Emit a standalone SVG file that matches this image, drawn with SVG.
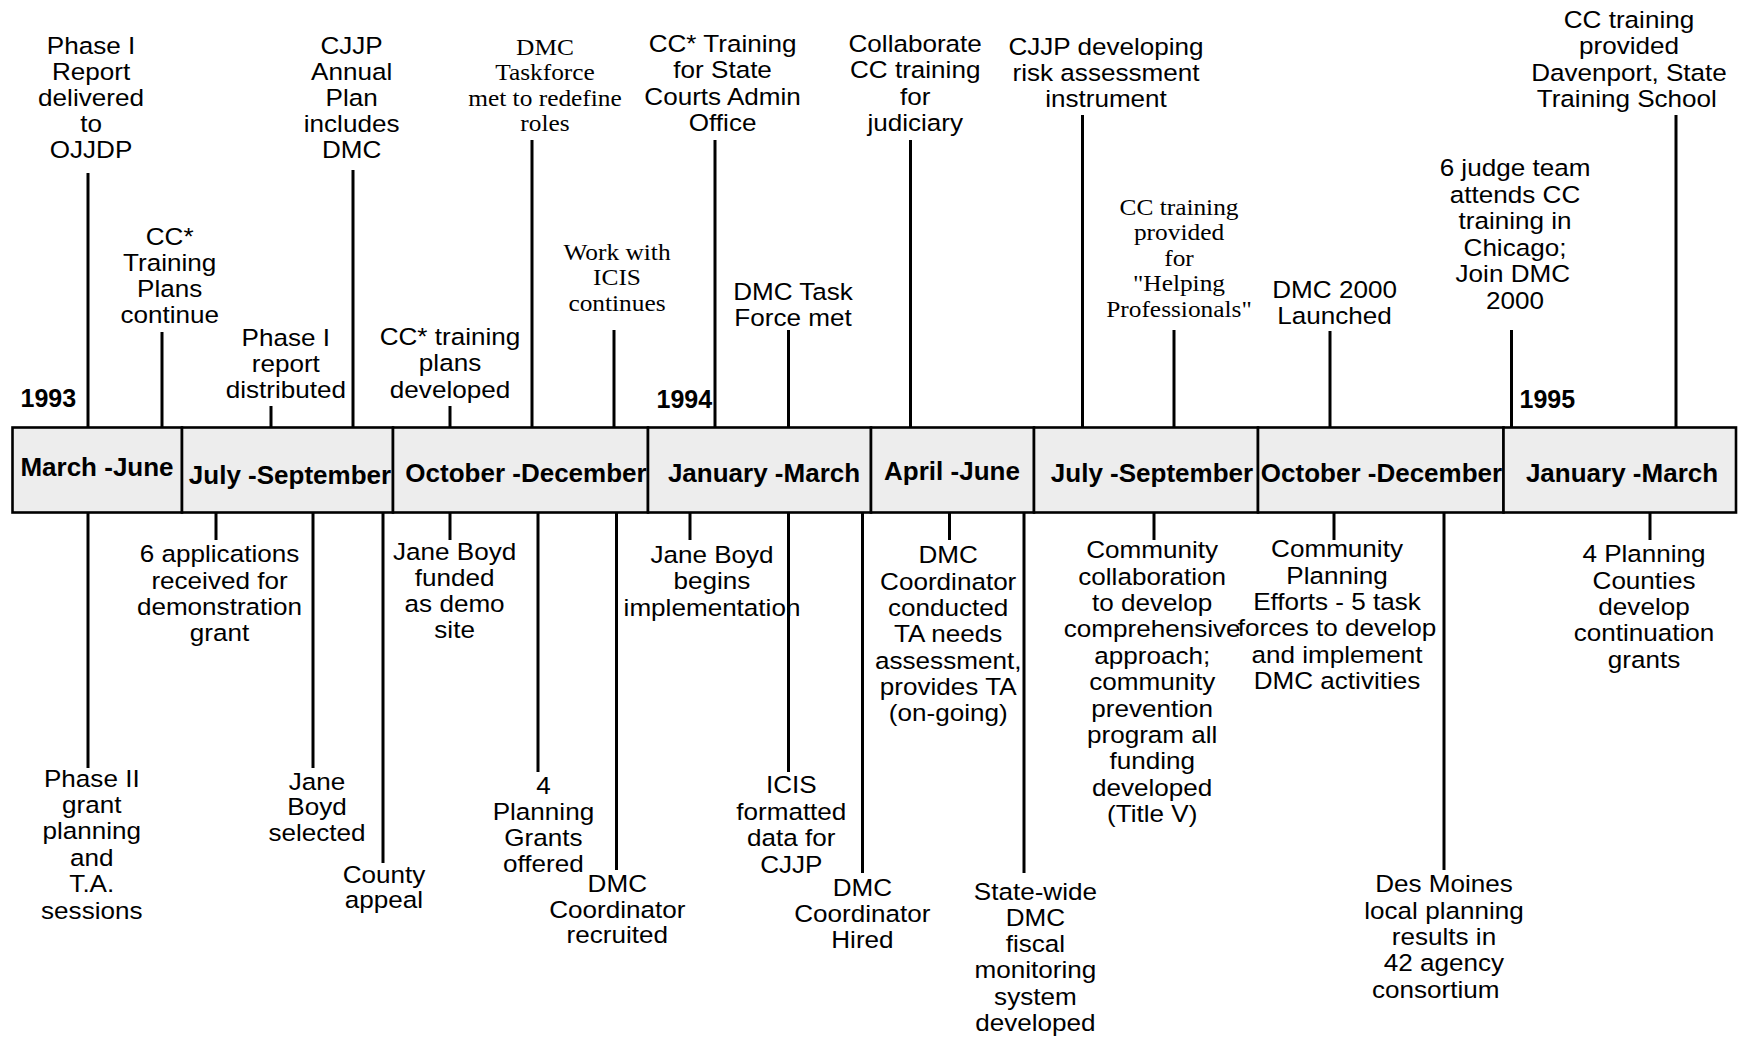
<svg xmlns="http://www.w3.org/2000/svg" width="1744" height="1038" viewBox="0 0 1744 1038">
<style>
.t{font-family:"Liberation Sans",Arial,sans-serif;font-size:23.5px;text-anchor:middle;fill:#000}
.s{font-family:"Liberation Serif","Times New Roman",serif;font-size:23.5px;text-anchor:middle;fill:#000}
.b{font-family:"Liberation Sans",Arial,sans-serif;font-weight:bold;font-size:26px;text-anchor:middle;fill:#000}
.y{font-family:"Liberation Sans",Arial,sans-serif;font-weight:bold;font-size:25px;fill:#000}
.seg{fill:#ededed;stroke:#000;stroke-width:2.6}
.ln{stroke:#000;stroke-width:3;fill:none}
</style>
<rect width="1744" height="1038" fill="#fff"/>
<g id="timeline-bar">
<g id="q1"><rect class="seg" x="12.5" y="427.5" width="169.5" height="85"/><text class="b" x="97" y="476">March -June</text></g>
<g id="q2"><rect class="seg" x="182" y="427.5" width="211" height="85"/><text class="b" x="290" y="483.5">July -September</text></g>
<g id="q3"><rect class="seg" x="393" y="427.5" width="255" height="85"/><text class="b" x="526" y="481.5">October -December</text></g>
<g id="q4"><rect class="seg" x="648" y="427.5" width="223" height="85"/><text class="b" x="764" y="481.5">January -March</text></g>
<g id="q5"><rect class="seg" x="871" y="427.5" width="163" height="85"/><text class="b" x="952" y="480">April -June</text></g>
<g id="q6"><rect class="seg" x="1034" y="427.5" width="224" height="85"/><text class="b" x="1152" y="481.5">July -September</text></g>
<g id="q7"><rect class="seg" x="1258" y="427.5" width="245.5" height="85"/><text class="b" x="1381.5" y="481.5">October -December</text></g>
<g id="q8"><rect class="seg" x="1503.5" y="427.5" width="232.5" height="85"/><text class="b" x="1622" y="481.5">January -March</text></g>
</g>
<g id="years">
<text class="y" x="20.5" y="407">1993</text>
<text class="y" x="656.5" y="408">1994</text>
<text class="y" x="1519.5" y="407.5">1995</text>
</g>
<g id="connectors">
<line class="ln" x1="88" y1="173" x2="88" y2="427"/>
<line class="ln" x1="162" y1="332" x2="162" y2="427"/>
<line class="ln" x1="271" y1="406" x2="271" y2="427"/>
<line class="ln" x1="353" y1="170" x2="353" y2="427"/>
<line class="ln" x1="450" y1="406" x2="450" y2="427"/>
<line class="ln" x1="532" y1="140" x2="532" y2="427"/>
<line class="ln" x1="614" y1="330" x2="614" y2="427"/>
<line class="ln" x1="715" y1="140" x2="715" y2="427"/>
<line class="ln" x1="788.5" y1="330" x2="788.5" y2="427"/>
<line class="ln" x1="910.5" y1="140" x2="910.5" y2="427"/>
<line class="ln" x1="1082.5" y1="115" x2="1082.5" y2="427"/>
<line class="ln" x1="1174" y1="330" x2="1174" y2="427"/>
<line class="ln" x1="1330" y1="331" x2="1330" y2="427"/>
<line class="ln" x1="1511.5" y1="330" x2="1511.5" y2="427"/>
<line class="ln" x1="1676" y1="115" x2="1676" y2="427"/>
<line class="ln" x1="88" y1="513" x2="88" y2="768"/>
<line class="ln" x1="216" y1="513" x2="216" y2="540"/>
<line class="ln" x1="313" y1="513" x2="313" y2="768"/>
<line class="ln" x1="383" y1="513" x2="383" y2="863"/>
<line class="ln" x1="450" y1="513" x2="450" y2="540"/>
<line class="ln" x1="538" y1="513" x2="538" y2="772"/>
<line class="ln" x1="616.5" y1="513" x2="616.5" y2="870"/>
<line class="ln" x1="690" y1="513" x2="690" y2="540"/>
<line class="ln" x1="788.5" y1="513" x2="788.5" y2="772"/>
<line class="ln" x1="862.5" y1="513" x2="862.5" y2="873"/>
<line class="ln" x1="949.5" y1="513" x2="949.5" y2="540"/>
<line class="ln" x1="1024" y1="513" x2="1024" y2="873"/>
<line class="ln" x1="1154" y1="513" x2="1154" y2="540"/>
<line class="ln" x1="1334" y1="513" x2="1334" y2="540"/>
<line class="ln" x1="1444" y1="513" x2="1444" y2="870"/>
<line class="ln" x1="1650" y1="513" x2="1650" y2="540"/>
</g>
<g id="t1"><text class="t" transform="translate(91 0) scale(1.11 1)"><tspan x="0" y="54">Phase I</tspan><tspan x="0" y="80">Report</tspan><tspan x="0" y="106">delivered</tspan><tspan x="0" y="132">to</tspan><tspan x="0" y="158">OJJDP</tspan></text></g>
<g id="t2"><text class="t" transform="translate(169.7 0) scale(1.11 1)"><tspan x="0" y="245">CC*</tspan><tspan x="0" y="271">Training</tspan><tspan x="0" y="297">Plans</tspan><tspan x="0" y="323">continue</tspan></text></g>
<g id="t3"><text class="t" transform="translate(285.8 0) scale(1.11 1)"><tspan x="0" y="346">Phase I</tspan><tspan x="0" y="372">report</tspan><tspan x="0" y="398">distributed</tspan></text></g>
<g id="t4"><text class="t" transform="translate(351.6 0) scale(1.11 1)"><tspan x="0" y="54">CJJP</tspan><tspan x="0" y="80">Annual</tspan><tspan x="0" y="106">Plan</tspan><tspan x="0" y="132">includes</tspan><tspan x="0" y="158">DMC</tspan></text></g>
<g id="t5"><text class="t" transform="translate(450 0) scale(1.11 1)"><tspan x="0" y="345">CC* training</tspan><tspan x="0" y="371.5">plans</tspan><tspan x="0" y="398">developed</tspan></text></g>
<g id="t6"><text class="s" transform="translate(545 0) scale(1.08 1)"><tspan x="0" y="55">DMC</tspan><tspan x="0" y="80.5">Taskforce</tspan><tspan x="0" y="106">met to redefine</tspan><tspan x="0" y="131.5">roles</tspan></text></g>
<g id="t7"><text class="s" transform="translate(617 0) scale(1.08 1)"><tspan x="0" y="260">Work with</tspan><tspan x="0" y="285.5">ICIS</tspan><tspan x="0" y="311">continues</tspan></text></g>
<g id="t8"><text class="t" transform="translate(722.6 0) scale(1.11 1)"><tspan x="0" y="52.5">CC* Training</tspan><tspan x="0" y="78.5">for State</tspan><tspan x="0" y="105">Courts Admin</tspan><tspan x="0" y="131">Office</tspan></text></g>
<g id="t9"><text class="t" transform="translate(793 0) scale(1.11 1)"><tspan x="0" y="300">DMC Task</tspan><tspan x="0" y="326">Force met</tspan></text></g>
<g id="t10"><text class="t" transform="translate(915.2 0) scale(1.11 1)"><tspan x="0" y="52.5">Collaborate</tspan><tspan x="0" y="78.5">CC training</tspan><tspan x="0" y="105">for</tspan><tspan x="0" y="131">judiciary</tspan></text></g>
<g id="t11"><text class="t" transform="translate(1106 0) scale(1.11 1)"><tspan x="0" y="55">CJJP developing</tspan><tspan x="0" y="81.5">risk assessment</tspan><tspan x="0" y="107.5">instrument</tspan></text></g>
<g id="t12"><text class="s" transform="translate(1179 0) scale(1.08 1)"><tspan x="0" y="215">CC training</tspan><tspan x="0" y="240.5">provided</tspan><tspan x="0" y="266">for</tspan><tspan x="0" y="291.5">"Helping</tspan><tspan x="0" y="317.5">Professionals"</tspan></text></g>
<g id="t13"><text class="t" transform="translate(1334.6 0) scale(1.11 1)"><tspan x="0" y="298.5">DMC 2000</tspan><tspan x="0" y="324">Launched</tspan></text></g>
<g id="t14"><text class="t" transform="translate(1515 0) scale(1.11 1)"><tspan x="0" y="176.5">6 judge team</tspan><tspan x="0" y="203">attends CC</tspan><tspan x="0" y="229.5">training in</tspan><tspan x="0" y="256">Chicago;</tspan><tspan x="-2" y="282.5">Join DMC</tspan><tspan x="0" y="309">2000</tspan></text></g>
<g id="t15"><text class="t" transform="translate(1629 0) scale(1.11 1)"><tspan x="0" y="28">CC training</tspan><tspan x="0" y="54.5">provided</tspan><tspan x="0" y="80.7">Davenport, State</tspan><tspan x="-2" y="107">Training School</tspan></text></g>
<g id="b1"><text class="t" transform="translate(91.8 0) scale(1.11 1)"><tspan x="0" y="787">Phase II</tspan><tspan x="0" y="813">grant</tspan><tspan x="0" y="839.5">planning</tspan><tspan x="0" y="866">and</tspan><tspan x="0" y="892.5">T.A.</tspan><tspan x="0" y="919">sessions</tspan></text></g>
<g id="b2"><text class="t" transform="translate(219.5 0) scale(1.11 1)"><tspan x="0" y="562.5">6 applications</tspan><tspan x="0" y="589">received for</tspan><tspan x="0" y="615">demonstration</tspan><tspan x="0" y="641">grant</tspan></text></g>
<g id="b3"><text class="t" transform="translate(317 0) scale(1.11 1)"><tspan x="0" y="790">Jane</tspan><tspan x="0" y="815.5">Boyd</tspan><tspan x="0" y="841.5">selected</tspan></text></g>
<g id="b4"><text class="t" transform="translate(384 0) scale(1.11 1)"><tspan x="0" y="883">County</tspan><tspan x="0" y="908.5">appeal</tspan></text></g>
<g id="b5"><text class="t" transform="translate(454.6 0) scale(1.11 1)"><tspan x="0" y="560">Jane Boyd</tspan><tspan x="0" y="586">funded</tspan><tspan x="0" y="612.3">as demo</tspan><tspan x="0" y="638.3">site</tspan></text></g>
<g id="b6"><text class="t" transform="translate(543.4 0) scale(1.11 1)"><tspan x="0" y="794">4</tspan><tspan x="0" y="820">Planning</tspan><tspan x="0" y="846">Grants</tspan><tspan x="0" y="872">offered</tspan></text></g>
<g id="b7"><text class="t" transform="translate(617.3 0) scale(1.11 1)"><tspan x="0" y="892">DMC</tspan><tspan x="0" y="918.3">Coordinator</tspan><tspan x="0" y="943.5">recruited</tspan></text></g>
<g id="b8"><text class="t" transform="translate(712 0) scale(1.11 1)"><tspan x="0" y="563.3">Jane Boyd</tspan><tspan x="0" y="589.3">begins</tspan><tspan x="0" y="616">implementation</tspan></text></g>
<g id="b9"><text class="t" transform="translate(791.3 0) scale(1.11 1)"><tspan x="0" y="793.5">ICIS</tspan><tspan x="0" y="820">formatted</tspan><tspan x="0" y="846.5">data for</tspan><tspan x="0" y="872.7">CJJP</tspan></text></g>
<g id="b10"><text class="t" transform="translate(862.4 0) scale(1.11 1)"><tspan x="0" y="896">DMC</tspan><tspan x="0" y="922">Coordinator</tspan><tspan x="0" y="948.3">Hired</tspan></text></g>
<g id="b11"><text class="t" transform="translate(948.2 0) scale(1.11 1)"><tspan x="0" y="563.5">DMC</tspan><tspan x="0" y="589.8">Coordinator</tspan><tspan x="0" y="616.1">conducted</tspan><tspan x="0" y="642.4">TA needs</tspan><tspan x="0" y="668.7">assessment,</tspan><tspan x="0" y="695">provides TA</tspan><tspan x="0" y="721.3">(on-going)</tspan></text></g>
<g id="b12"><text class="t" transform="translate(1035.4 0) scale(1.11 1)"><tspan x="0" y="900">State-wide</tspan><tspan x="0" y="926">DMC</tspan><tspan x="0" y="952.3">fiscal</tspan><tspan x="0" y="978.3">monitoring</tspan><tspan x="0" y="1005">system</tspan><tspan x="0" y="1031.5">developed</tspan></text></g>
<g id="b13"><text class="t" transform="translate(1152.2 0) scale(1.11 1)"><tspan x="0" y="558.3">Community</tspan><tspan x="0" y="584.7">collaboration</tspan><tspan x="0" y="611.1">to develop</tspan><tspan x="0" y="637.5">comprehensive</tspan><tspan x="0" y="663.9">approach;</tspan><tspan x="0" y="690.3">community</tspan><tspan x="0" y="716.7">prevention</tspan><tspan x="0" y="743.1">program all</tspan><tspan x="0" y="769.5">funding</tspan><tspan x="0" y="795.9">developed</tspan><tspan x="0" y="822.3">(Title V)</tspan></text></g>
<g id="b14"><text class="t" transform="translate(1337 0) scale(1.11 1)"><tspan x="0" y="557.5">Community</tspan><tspan x="0" y="583.8">Planning</tspan><tspan x="0" y="610.1">Efforts - 5 task</tspan><tspan x="0" y="636.4">forces to develop</tspan><tspan x="0" y="662.7">and implement</tspan><tspan x="0" y="689">DMC activities</tspan></text></g>
<g id="b15"><text class="t" transform="translate(1444 0) scale(1.11 1)"><tspan x="0" y="892.5">Des Moines</tspan><tspan x="0" y="918.8">local planning</tspan><tspan x="0" y="945.1">results in</tspan><tspan x="0" y="971.4">42 agency</tspan><tspan x="-7.5" y="997.7">consortium</tspan></text></g>
<g id="b16"><text class="t" transform="translate(1644 0) scale(1.11 1)"><tspan x="0" y="562.5">4 Planning</tspan><tspan x="0" y="588.8">Counties</tspan><tspan x="0" y="615.1">develop</tspan><tspan x="0" y="641.4">continuation</tspan><tspan x="0" y="667.7">grants</tspan></text></g>
</svg>
